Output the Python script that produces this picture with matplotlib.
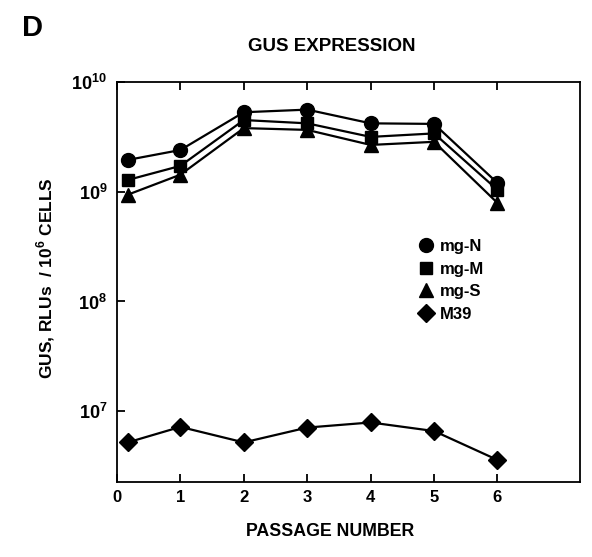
import matplotlib
matplotlib.use("Agg")
from matplotlib import pyplot as plt
from matplotlib.lines import Line2D

plt.rcParams["font.family"] = ["Liberation Sans", "DejaVu Sans"]
plt.rcParams["font.weight"] = "bold"
plt.rcParams["mathtext.fontset"] = "custom"
plt.rcParams["mathtext.rm"] = "Liberation Sans:bold"
plt.rcParams["mathtext.bf"] = "Liberation Sans:bold"

passage = [0.17, 1, 2, 3, 4, 5, 6]
mg_n = [1.95e9, 2.4e9, 5.3e9, 5.6e9, 4.2e9, 4.15e9, 1.2e9]
mg_m = [1.28e9, 1.72e9, 4.5e9, 4.2e9, 3.16e9, 3.4e9, 1.04e9]
mg_s = [9.4e8, 1.43e9, 3.8e9, 3.66e9, 2.67e9, 2.85e9, 7.9e8]
m39 = [5.2e6, 7.2e6, 5.2e6, 7.1e6, 7.9e6, 6.6e6, 3.6e6]

series = [
    ("mg-N", mg_n, "o", 10),
    ("mg-M", mg_m, "s", 9),
    ("mg-S", mg_s, "^", 10),
    ("M39", m39, "D", 9),
]

xticks = [0, 1, 2, 3, 4, 5, 6]
yticks = [1e7, 1e8, 1e9, 1e10]
ytick_labels = [r"$10^{7}$", r"$10^{8}$", r"$10^{9}$", r"$10^{10}$"]

fig = plt.figure(figsize=(5.92, 5.57), dpi=100)
ax = fig.add_axes([0.1976, 0.1346, 0.782, 0.7182])

handles = []
for name, vals, mk, ms in series:
    ax.plot(passage, vals, color="black", lw=1.6, marker=mk, ms=ms,
            markerfacecolor="black", markeredgecolor="black")
    handles.append(Line2D([], [], color="black", lw=0, marker=mk, ms=ms,
                          label=name))

ax.set_yscale("log")
ax.set_xlim(0, 7.3)
ax.set_ylim(10 ** 6.355, 1e10)
ax.set_xticks(xticks)
ax.set_xticklabels([str(t) for t in xticks], fontsize=12, fontweight="bold")
ax.set_yticks(yticks)
ax.set_yticklabels(ytick_labels, fontsize=13)
ax.yaxis.set_minor_locator(matplotlib.ticker.NullLocator())
ax.tick_params(axis="x", direction="in", length=6, width=1.3, top=True,
               pad=6)
ax.tick_params(axis="y", direction="in", length=6, width=1.3, pad=7)
for s in ax.spines.values():
    s.set_linewidth(1.3)

ax.legend(handles=handles, loc="upper left", bbox_to_anchor=(0.62, 0.645),
          frameon=False, handlelength=0.8, handletextpad=0.45,
          labelspacing=0.45, prop={"size": 12, "weight": "bold"})

fig.text(0.037, 0.95, "D", fontsize=21, fontweight="bold", va="center")
fig.text(0.56, 0.917, "GUS EXPRESSION", fontsize=13.5, fontweight="bold",
         ha="center", va="center")
fig.text(0.558, 0.045, "PASSAGE NUMBER", fontsize=12.8, fontweight="bold",
         ha="center", va="center")
fig.text(0.078, 0.5, r"GUS, RLUs  / $10^{6}$ CELLS", fontsize=12.5,
         fontweight="bold", rotation=90, ha="center", va="center")

fig.savefig("out.png", dpi=100)
